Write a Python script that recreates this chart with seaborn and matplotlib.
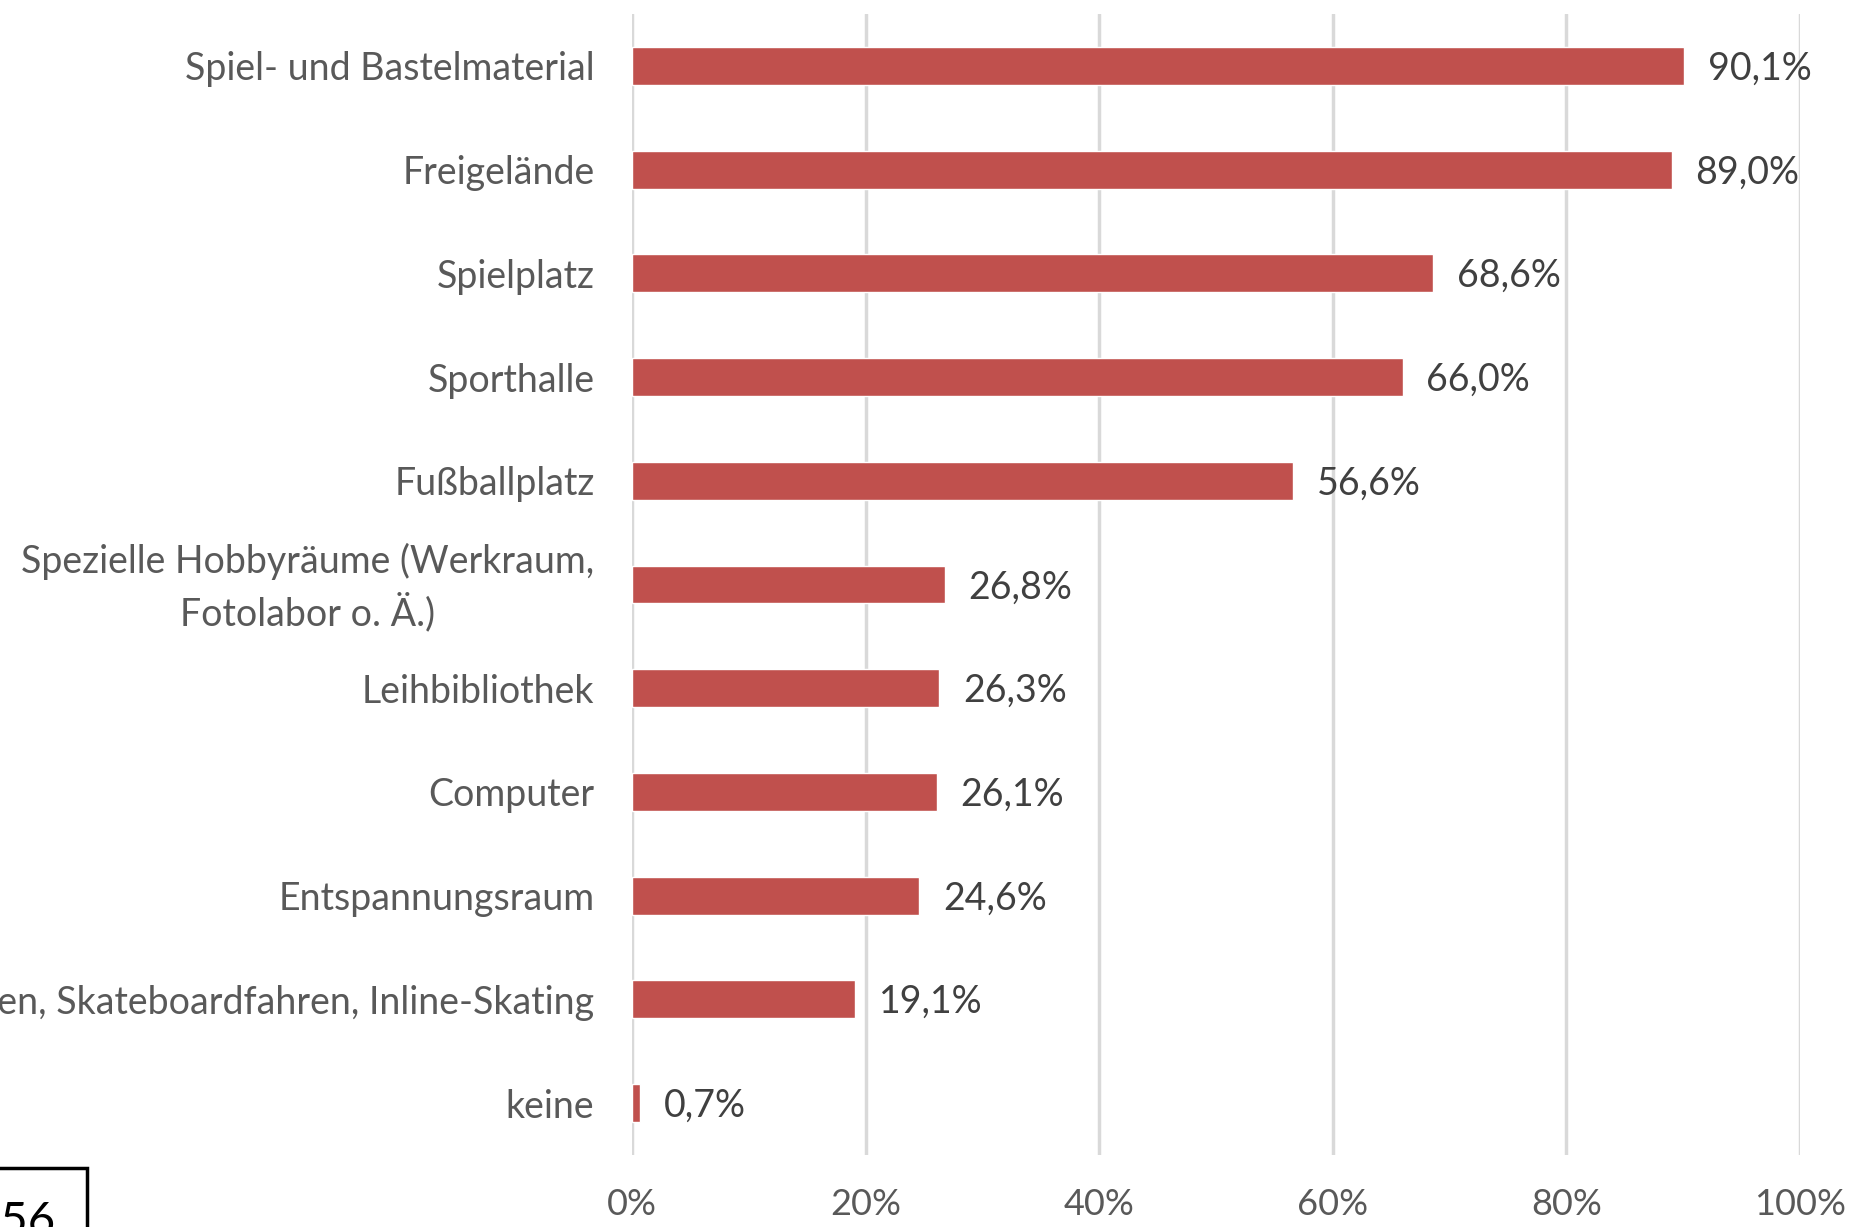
import matplotlib
matplotlib.use("Agg")
import matplotlib.pyplot as plt
import matplotlib.transforms as mtransforms
import seaborn as sns
import pandas as pd
from matplotlib.patches import Rectangle

categories = [
    "Spiel- und Bastelmaterial",
    "Freigelände",
    "Spielplatz",
    "Sporthalle",
    "Fußballplatz",
    "Spezielle Hobbyräume (Werkraum,\nFotolabor o. Ä.)",
    "Leihbibliothek",
    "Computer",
    "Entspannungsraum",
    "Rollschuhfahren, Skateboardfahren, Inline-Skating",
    "keine",
]
values = [90.1, 89.0, 68.6, 66.0, 56.6, 26.8, 26.3, 26.1, 24.6, 19.1, 0.7]
value_labels = ["90,1%", "89,0%", "68,6%", "66,0%", "56,6%", "26,8%", "26,3%", "26,1%", "24,6%", "19,1%", "0,7%"]
x_ticks = [0, 20, 40, 60, 80, 100]
x_tick_labels = ["0%", "20%", "40%", "60%", "80%", "100%"]
page_number = "156"

sns.set_theme(style="white")
plt.rcParams["font.family"] = ["Lato", "DejaVu Sans"]

df = pd.DataFrame({"cat": categories, "val": values})

fig = plt.figure(figsize=(18.55, 12.27), dpi=100)
ax = fig.add_axes([632 / 1855, 1 - 1155 / 1227, (1800 - 632) / 1855, (1155 - 14) / 1227])

sns.barplot(data=df, x="val", y="cat", color="#C0504D", saturation=1, width=0.365,
            ax=ax, orient="h", zorder=3)

ax.set_xlim(0, 100)
ax.set_ylim(10.5, -0.5)
ax.set_xticks(x_ticks)
ax.set_xticklabels(x_tick_labels)
ax.xaxis.grid(True, color="#D9D9D9", linewidth=2.5, zorder=0)
ax.set_axisbelow(True)
for s in ax.spines.values():
    s.set_visible(False)
ax.set_xlabel("")
ax.set_ylabel("")
ax.tick_params(axis="x", length=0, pad=24, labelsize=26, labelcolor="#595959")
ax.tick_params(axis="y", length=0, pad=27, labelsize=27, labelcolor="#595959")
for t in ax.get_yticklabels():
    t.set_multialignment("center")
    t.set_linespacing(1.4)

# nudge the two-line label slightly upward
for tick in ax.yaxis.get_major_ticks():
    if "\n" in tick.label1.get_text():
        tick.label1.set_transform(tick.label1.get_transform() +
                                  mtransforms.ScaledTranslation(0, 5 / 72, fig.dpi_scale_trans))

for i, (v, lab) in enumerate(zip(values, value_labels)):
    ax.annotate(lab, xy=(v, i), xytext=(17, -2), textcoords="offset points",
                va="center", ha="left", fontsize=27, color="#404040", zorder=5)

fig.patches.append(Rectangle((-0.01, -0.05), 87 / 1855 + 0.01, (1227 - 1168) / 1227 + 0.05,
                             transform=fig.transFigure, fill=False, edgecolor="black",
                             linewidth=2.5))
fig.text(55 / 1855, -8 / 1227, page_number, fontsize=34, color="black", ha="right", va="baseline")

fig.savefig("out.png", dpi=100)
